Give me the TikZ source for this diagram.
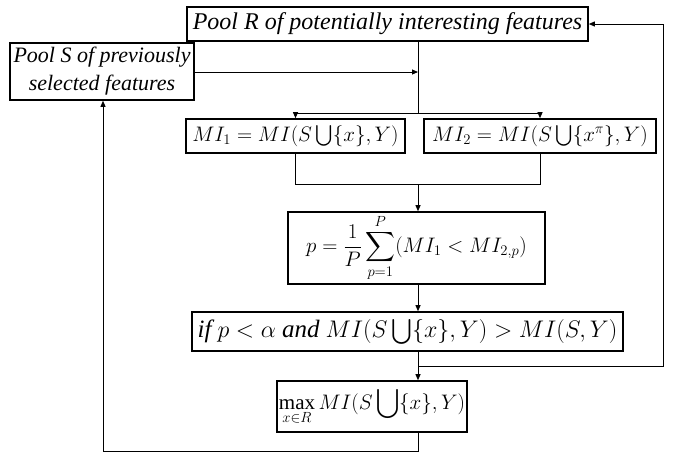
\RequirePackage{fix-cm}
\documentclass[tikz,border=0pt]{standalone}
\usepackage{amsmath}
\usepackage{fontspec}
\setmainfont{Liberation Serif}
\usetikzlibrary{arrows.meta,calc}
\begin{document}
\begin{tikzpicture}[x=1pt,y=1pt,
  box/.style={draw,line width=1.6pt,inner sep=0pt,align=center},
  txt/.style={font=\fontsize{22}{28}\selectfont\itshape},
  mth/.style={font=\fontsize{21}{26}\selectfont},
  conn/.style={line width=0.9pt},
  arr/.style={conn,-{Triangle[length=6pt,width=5pt]}}]
\useasboundingbox (0,0) rectangle (677,-453);
\node[box,txt,font=\fontsize{24}{28}\selectfont\itshape,minimum width=401,minimum height=34] (R) at (387.5,-24) {Pool R of potentially interesting features};
\node[box,txt,minimum width=184,minimum height=57] (S) at (102,-71.5) {Pool S of previously\\selected features};
\node[box,mth,minimum width=219,minimum height=34] (M1) at (295.5,-136) {$MI_1 = MI(S\bigcup\{x\},Y)$};
\node[box,mth,minimum width=232,minimum height=34] (M2) at (540,-136) {$MI_2 = MI(S\bigcup\{x^\pi\},Y)$};
\node[box,mth,minimum width=257,minimum height=72] (P) at (416.5,-248) {$\displaystyle p=\frac{1}{P}\sum_{p=1}^{P}(MI_1<MI_{2,p})$};
\node[box,font=\fontsize{24}{28}\selectfont,minimum width=431,minimum height=39] (IF) at (407.5,-331.5) {{\itshape\fontsize{25}{28}\selectfont if} $p<\alpha$ {\itshape\fontsize{25}{28}\selectfont and} $MI(S\bigcup\{x\},Y)>MI(S,Y)$};
\node[box,mth,minimum width=190,minimum height=51] (MX) at (372,-406.5) {$\displaystyle\max_{x\in R} MI(S\bigcup\{x\},Y)$};
\coordinate (t0) at (418,-72);
\coordinate (t1) at (418,-113);
\coordinate (t2) at (418,-184);
\coordinate (t3) at (418,-366);
\coordinate (t4) at (418,-451);
\coordinate (rr) at (663,-366);
\coordinate (bl) at (103,-451);
\draw[conn] (R.south -| t1) -- (t1);
\draw[arr] (S.east |- t0) -- (t0);
\draw[conn] (M1.north |- t1) -- (M2.north |- t1);
\draw[arr] (M1.north |- t1) -- (M1.north);
\draw[arr] (M2.north |- t1) -- (M2.north);
\draw[conn] (M1.south) -- (M1.south |- t2) -- (M2.south |- t2) -- (M2.south);
\draw[arr] (t2) -- (P.north -| t2);
\draw[arr] (P.south -| t2) -- (IF.north -| t2);
\draw[arr] (IF.south -| t3) -- (MX.north -| t3);
\draw[arr] (t3) -- (rr) -- (rr |- R.east) -- (R.east);
\draw[arr] (MX.south -| t4) -- (t4) -- (bl) -- (bl |- S.south);
\end{tikzpicture}
\end{document}
